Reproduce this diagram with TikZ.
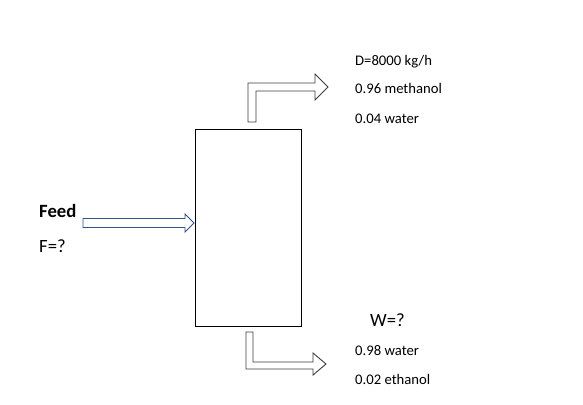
\documentclass[tikz,border=0pt]{standalone}
\usepackage{fontspec}
\setmainfont{Carlito}
\definecolor{feedblue}{RGB}{47,82,143}
\definecolor{outgray}{RGB}{60,60,60}
\begin{document}
\begin{tikzpicture}[x=1pt,y=-1pt,
  lbl/.style={anchor=base west,inner sep=0pt,font=\fontsize{14.67}{17}\selectfont},
  biglbl/.style={anchor=base west,inner sep=0pt,font=\fontsize{18.7}{22}\selectfont},
  column/.style={draw=black,line width=0.8pt,fill=white,inner sep=0pt,minimum width=106pt,minimum height=197pt},
  bentarrow/.style={draw=outgray,line width=0.9pt,fill=white,line join=miter},
  feedarrow/.style={draw=feedblue,line width=0.9pt,fill=white,line join=miter}]
\useasboundingbox (0,0) rectangle (583,404);
\node[column] (col) at (248,227.5) {};
% top product arrow
\draw[bentarrow] (248,122) -- (248,83) -- (315,83) -- (315,74) -- (328,87) -- (315,100) -- (315,91) -- (256,91) -- (256,122) -- cycle;
% bottom product arrow
\draw[bentarrow] (246,332) -- (246,369) -- (313,369) -- (313,375) -- (326,364) -- (313,353) -- (313,362) -- (253,362) -- (253,332) -- cycle;
% feed arrow
\draw[feedarrow] (83,218.5) -- (185,218.5) -- (185,214) -- (194,223) -- (185,232) -- (185,227.5) -- (83,227.5) -- cycle;
\node[biglbl,font=\fontsize{18.7}{22}\selectfont\bfseries] (feed) at (39,217.5) {Feed};
\node[biglbl] (F) at (39,252.5) {F=?};
\node[lbl] (D) at (355,66) {D=8000 kg/h};
\node[lbl] (xd1) at (355,93) {0.96 methanol};
\node[lbl] (xd2) at (355,123) {0.04 water};
\node[biglbl] (W) at (370,326) {W=?};
\node[lbl] (xw1) at (355,355) {0.98 water};
\node[lbl] (xw2) at (355,384.5) {0.02 ethanol};
\end{tikzpicture}
\end{document}
